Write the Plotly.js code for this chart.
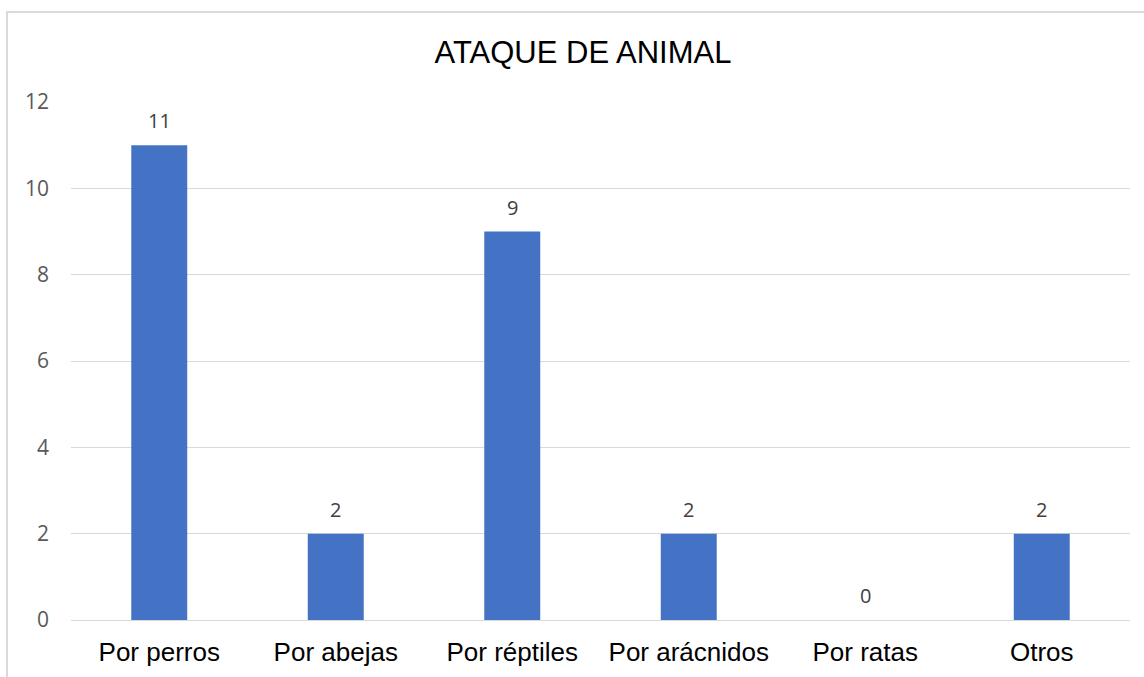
<!DOCTYPE html>
<html>
<head>
<meta charset="utf-8">
<script src="https://cdn.plot.ly/plotly-3.0.1.min.js"></script>
<style>
html,body{margin:0;padding:0;background:#fff;overflow:hidden;}
#chart{width:1144px;height:677px;}
</style>
</head>
<body>
<div id="chart"></div>
<script>
const categories = ["Por perros", "Por abejas", "Por réptiles", "Por arácnidos", "Por ratas", "Otros"];
const values = [11, 2, 9, 2, 0, 2];
const yTicks = [0, 2, 4, 6, 8, 10, 12];

const trace = {
  type: 'bar',
  x: categories,
  y: values,
  marker: {color: '#4472C4'},
  cliponaxis: false,
  hoverinfo: 'x+y'
};

const labels = categories.map((c, i) => ({
  x: c, y: values[i], xref: 'x', yref: 'y',
  text: String(values[i]), showarrow: false,
  yanchor: 'bottom', yshift: 9,
  font: {family: 'Open Sans, Lato, sans-serif', size: 20, color: '#404040'}
}));

const layout = {
  width: 1144,
  height: 677,
  margin: {l: 71, r: 14, t: 102, b: 57},
  paper_bgcolor: '#ffffff',
  plot_bgcolor: '#ffffff',
  bargap: 0.683,
  showlegend: false,
  title: {
    text: 'ATAQUE DE ANIMAL',
    font: {family: 'Liberation Sans, Arial, sans-serif', size: 31, color: '#000000'},
    xref: 'container', x: 0.5096,
    yref: 'container', y: 0.923, yanchor: 'middle', xanchor: 'center'
  },
  xaxis: {
    type: 'category',
    showgrid: false,
    showline: false,
    zeroline: false,
    ticks: '',
    tickfont: {family: 'Liberation Sans, Arial, sans-serif', size: 26, color: '#000000'},
    ticklabelstandoff: 14
  },
  yaxis: {
    range: [0, 12],
    tickvals: yTicks,
    ticktext: yTicks.map(String),
    showgrid: true,
    gridcolor: '#d9d9d9',
    gridwidth: 1,
    zeroline: true,
    zerolinecolor: '#d9d9d9',
    zerolinewidth: 1,
    showline: false,
    ticks: '',
    tickfont: {family: 'Open Sans, Lato, sans-serif', size: 21, color: '#595959'},
    ticklabelstandoff: 21
  },
  annotations: labels,
  shapes: [{
    type: 'rect', xref: 'paper', yref: 'paper',
    x0: -0.0604, x1: 1.03, y0: -0.14, y1: 1.1737,
    line: {color: '#d9d9d9', width: 2},
    fillcolor: 'rgba(0,0,0,0)',
    layer: 'below'
  }]
};

Plotly.newPlot('chart', [trace], layout, {displayModeBar: false, staticPlot: true});
</script>
</body>
</html>
